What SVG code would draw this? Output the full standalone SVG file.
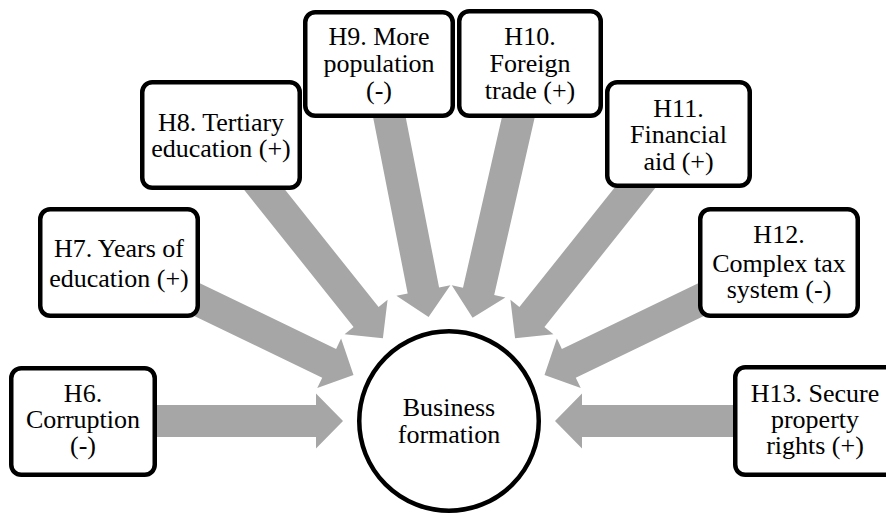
<svg xmlns="http://www.w3.org/2000/svg" width="886" height="515" viewBox="0 0 886 515">
<style>
.box{fill:#fff;stroke:#000;stroke-width:4.5}
.arr{fill:#a6a6a6;stroke:none}
.t{font-family:'Liberation Serif',Tinos,'Times New Roman',Times,'DejaVu Serif',serif;font-size:26px;fill:#000;text-anchor:middle}
</style>
<defs>
<polygon id="arrow" points="-260,-16 -27,-16 -27,-27.5 0,0 -27,27.5 -27,16 -260,16"/>
</defs>
<rect width="886" height="515" fill="#fff"/>
<g id="connectors" class="arr">
<use href="#arrow" transform="translate(449,421) rotate(0) translate(-106,0)"/>
<use href="#arrow" transform="translate(449,421) rotate(25.714) translate(-106,0)"/>
<use href="#arrow" transform="translate(449,421) rotate(51.429) translate(-106,0)"/>
<use href="#arrow" transform="translate(449,421) rotate(78.9) translate(-106,0)"/>
<use href="#arrow" transform="translate(449,421) rotate(102.857) translate(-106,0)"/>
<use href="#arrow" transform="translate(449,421) rotate(128.571) translate(-106,0)"/>
<use href="#arrow" transform="translate(449,421) rotate(154.286) translate(-106,0)"/>
<use href="#arrow" transform="translate(449,421) rotate(180) translate(-106,0)"/>
</g>
<g id="center">
<circle cx="449" cy="421" r="89.75" fill="#fff" stroke="#000" stroke-width="4.5"/>
<text class="t" font-family="Liberation Serif, serif" x="449" y="416">Business</text>
<text class="t" font-family="Liberation Serif, serif" x="449" y="443">formation</text>
</g>
<g id="h6" font-family="Liberation Serif, serif">
<rect class="box" x="11.25" y="368.25" width="143.5" height="106.5" rx="10"/>
<text class="t" x="83" y="402">H6.</text>
<text class="t" x="83" y="428">Corruption</text>
<text class="t" x="83" y="454">(-)</text>
</g>
<g id="h7" font-family="Liberation Serif, serif">
<rect class="box" x="40.25" y="209.25" width="157.5" height="106.5" rx="10"/>
<text class="t" x="119" y="257">H7. Years of</text>
<text class="t" x="119" y="287">education (+)</text>
</g>
<g id="h8" font-family="Liberation Serif, serif">
<rect class="box" x="142.25" y="82.25" width="157.5" height="105.5" rx="10"/>
<text class="t" x="221" y="130.5">H8. Tertiary</text>
<text class="t" x="221" y="157">education (+)</text>
</g>
<g id="h9" font-family="Liberation Serif, serif">
<rect class="box" x="305.25" y="12.25" width="147.5" height="103.5" rx="10"/>
<text class="t" x="379" y="45">H9. More</text>
<text class="t" x="379" y="72">population</text>
<text class="t" x="379" y="99">(-)</text>
</g>
<g id="h10" font-family="Liberation Serif, serif">
<rect class="box" x="459.25" y="11.25" width="141.5" height="104.5" rx="10"/>
<text class="t" x="530" y="45">H10.</text>
<text class="t" x="530" y="72">Foreign</text>
<text class="t" x="530" y="99">trade (+)</text>
</g>
<g id="h11" font-family="Liberation Serif, serif">
<rect class="box" x="607.25" y="82.25" width="142.5" height="103.5" rx="10"/>
<text class="t" x="678.5" y="116.5">H11.</text>
<text class="t" x="678.5" y="143">Financial</text>
<text class="t" x="678.5" y="170">aid (+)</text>
</g>
<g id="h12" font-family="Liberation Serif, serif">
<rect class="box" x="700.25" y="209.25" width="157.5" height="106.5" rx="10"/>
<text class="t" x="779" y="243">H12.</text>
<text class="t" x="779" y="271.5">Complex tax</text>
<text class="t" x="779" y="297.5">system (-)</text>
</g>
<g id="h13" font-family="Liberation Serif, serif">
<rect class="box" x="735.25" y="367.25" width="160" height="107.5" rx="10"/>
<text class="t" x="815" y="402">H13. Secure</text>
<text class="t" x="815" y="428">property</text>
<text class="t" x="815" y="454">rights (+)</text>
</g>
</svg>
